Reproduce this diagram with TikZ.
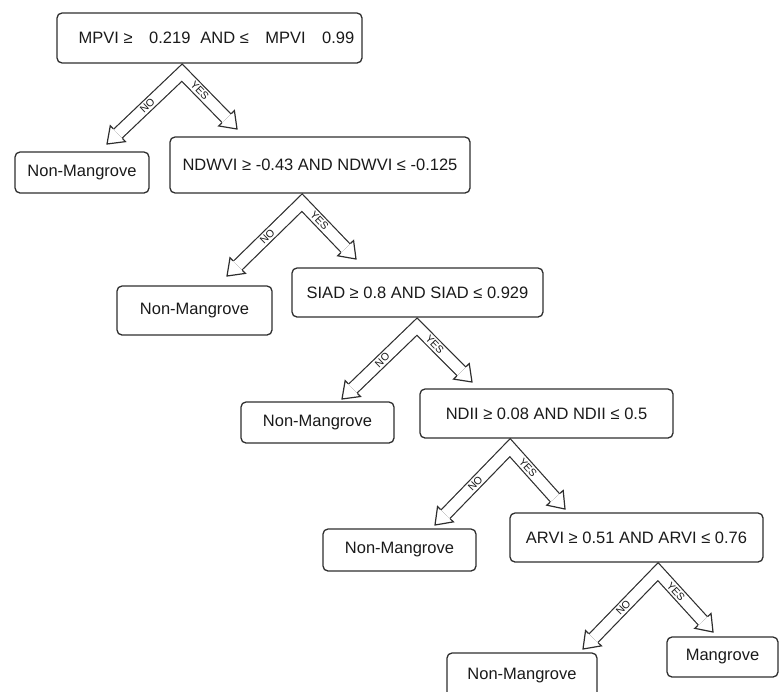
\documentclass[tikz,border=0pt]{standalone}
\usepackage{fontspec}
\setmainfont{Liberation Sans}
\usetikzlibrary{calc}
\definecolor{linec}{HTML}{2E2E2E}
\definecolor{textc}{HTML}{1A1A1A}

\tikzset{
  box/.style={draw=linec, line width=1.3pt, rounded corners=5pt, inner sep=0pt,
    text=textc, font=\fontsize{16.5}{19}\selectfont},
  shaft/.style={draw=linec, line width=1.2pt, double=white, double distance=11pt},
  head/.style={draw=linec, line width=1.2pt, line join=miter},
  lbl/.style={font=\fontsize{10.5}{11}\selectfont, text=textc, inner sep=0pt},
}

\begin{document}
\begin{tikzpicture}[x=1pt, y=-1pt]
    \path[use as bounding box, clip] (0,0) rectangle (779,691);
    % tests
    \foreach \i/\cx/\cy/\w/\h/\txt in {
        1/209.5/38/305/50/{\hspace{14pt}MPVI ≥\hspace{1em}0.219\hspace{0.6em}AND ≤\hspace{1em}MPVI\hspace{1em}0.99},
        2/320/165/300/56/{NDWVI ≥ -0.43 AND NDWVI ≤ -0.125},
        3/417.5/292.5/251/49/{SIAD ≥ 0.8 AND SIAD ≤ 0.929},
        4/546.5/413.5/253/49/{NDII ≥ 0.08 AND NDII ≤ 0.5},
        5/636.5/537.5/253/49/{ARVI ≥ 0.51 AND ARVI ≤ 0.76}}
        \node[box, minimum width=\w pt, minimum height=\h pt] (test\i) at (\cx,\cy) {\txt};
    % leaves
    \foreach \i/\cx/\cy/\w/\h in {1/82/172.5/134/41, 2/194.5/310.5/155/49,
        3/317.5/422.5/153/41, 4/399.5/550/153/42, 5/522/676/150/46}
        \node[box, minimum width=\w pt, minimum height=\h pt] (non\i) at (\cx,\cy) {Non-Mangrove};
    \node[box, minimum width=111pt, minimum height=40pt] (mangrove) at (722.5,657) {Mangrove};
    % NO / YES arrows
    \foreach \i/\ax/\nx/\ny/\yx/\yy in {1/182/107/144/237/129, 2/302/227/276/356/259,
        3/417/342/399/472/382, 4/510/435/525/565/509, 5/658/583/649/713/632} {
        \coordinate (top\i) at (\ax,0 |- test\i.south);
        \coordinate (no\i) at (\nx,\ny);
        \coordinate (yes\i) at (\yx,\yy);
        \coordinate (bend\i) at ($(top\i)+(0,9)$);
        \coordinate (nob\i) at ($(no\i)!15pt!(bend\i)$);
        \coordinate (yesb\i) at ($(yes\i)!15pt!(bend\i)$);
        \draw[shaft] (nob\i) -- node[lbl, sloped, pos=0.46] {NO} (bend\i)
            -- node[lbl, sloped, pos=0.4] {YES} (yesb\i);
        \draw[head] ($(nob\i)!6.7pt!90:(no\i)$) -- ($(nob\i)!11pt!90:(no\i)$) -- (no\i)
            -- ($(nob\i)!11pt!-90:(no\i)$) -- ($(nob\i)!6.7pt!-90:(no\i)$);
        \draw[head] ($(yesb\i)!6.7pt!90:(yes\i)$) -- ($(yesb\i)!11pt!90:(yes\i)$) -- (yes\i)
            -- ($(yesb\i)!11pt!-90:(yes\i)$) -- ($(yesb\i)!6.7pt!-90:(yes\i)$);
    }
\end{tikzpicture}
\end{document}
